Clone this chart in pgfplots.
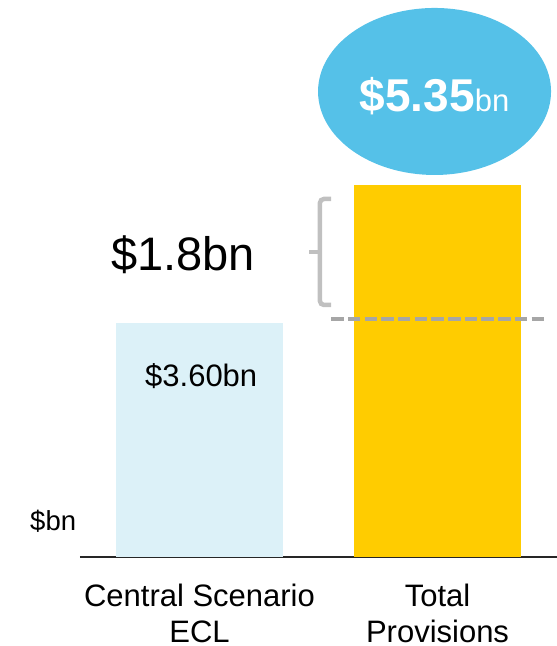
\documentclass[border=0pt]{standalone}
\usepackage{pgfplots}
\pgfplotsset{compat=1.18}
\usepackage{fontspec}
\setmainfont{Liberation Sans}
\definecolor{barblue}{RGB}{220,241,248}
\definecolor{baryellow}{RGB}{255,204,0}
\definecolor{bubble}{RGB}{85,193,232}
\definecolor{bracegray}{RGB}{192,192,192}
\definecolor{dashgray}{RGB}{166,166,166}
\begin{document}
\begin{tikzpicture}
\begin{axis}[
  scale only axis,
  width=477bp, height=557bp,
  xmin=-0.502, xmax=1.502,
  ymin=0.633, ymax=7.696,
  clip mode=individual,
  hide y axis,
  axis x line*=bottom,
  x axis line style={-, line width=1.3bp, color=black!85},
  xtick={0,1},
  xticklabels={{Central Scenario\\ECL},{Total\\Provisions}},
  major tick length=0pt,
  xticklabel style={align=center, anchor=north, inner sep=0pt, yshift=-26.5bp,
    text depth=0pt, font=\fontsize{31bp}{36bp}\selectfont},
]
\addplot[ybar, bar shift=0pt, bar width=0.7017, fill=barblue, draw=none] coordinates {(0,3.60)};
\addplot[ybar, bar shift=0pt, bar width=0.7017, fill=baryellow, draw=none] coordinates {(1,5.35)};
% dashed reference line at the ECL level
\draw[dashgray, line width=3.5bp, dash pattern=on 12.5bp off 4.2bp]
  (axis cs:0.553,3.651) -- (axis cs:1.452,3.651);
% bracket
\draw[bracegray, line width=4.5bp, rounded corners=4bp]
  (axis cs:0.553,5.173) -- (axis cs:0.506,5.173) -- (axis cs:0.506,3.829) -- (axis cs:0.553,3.829);
\draw[bracegray, line width=4.5bp] (axis cs:0.506,4.501) -- (axis cs:0.460,4.501);
% labels
\node[anchor=base west, inner sep=0pt, font=\fontsize{47bp}{52bp}\selectfont]
  at (axis cs:-0.372,4.26) {\$1.8bn};
\node[anchor=base west, inner sep=0pt, font=\fontsize{31bp}{36bp}\selectfont]
  at (axis cs:-0.229,2.789) {\$3.60bn};
\node[anchor=base west, inner sep=0pt, font=\fontsize{27.5bp}{32bp}\selectfont]
  at (axis cs:-0.712,0.975) {\$bn};
% bubble
\fill[bubble] (axis cs:0.9875,6.536) ellipse [x radius=116.5bp, y radius=83.5bp];
\node[anchor=base, inner sep=0pt, text=white]
  at (axis cs:0.9875,6.276) {{\bfseries\fontsize{46bp}{50bp}\selectfont \$5.35}{\fontsize{31bp}{35bp}\selectfont bn}};
\end{axis}
\pgfresetboundingbox
\path[use as bounding box] (-80bp,-89bp) rectangle (477bp,557bp);
\end{tikzpicture}
\end{document}
